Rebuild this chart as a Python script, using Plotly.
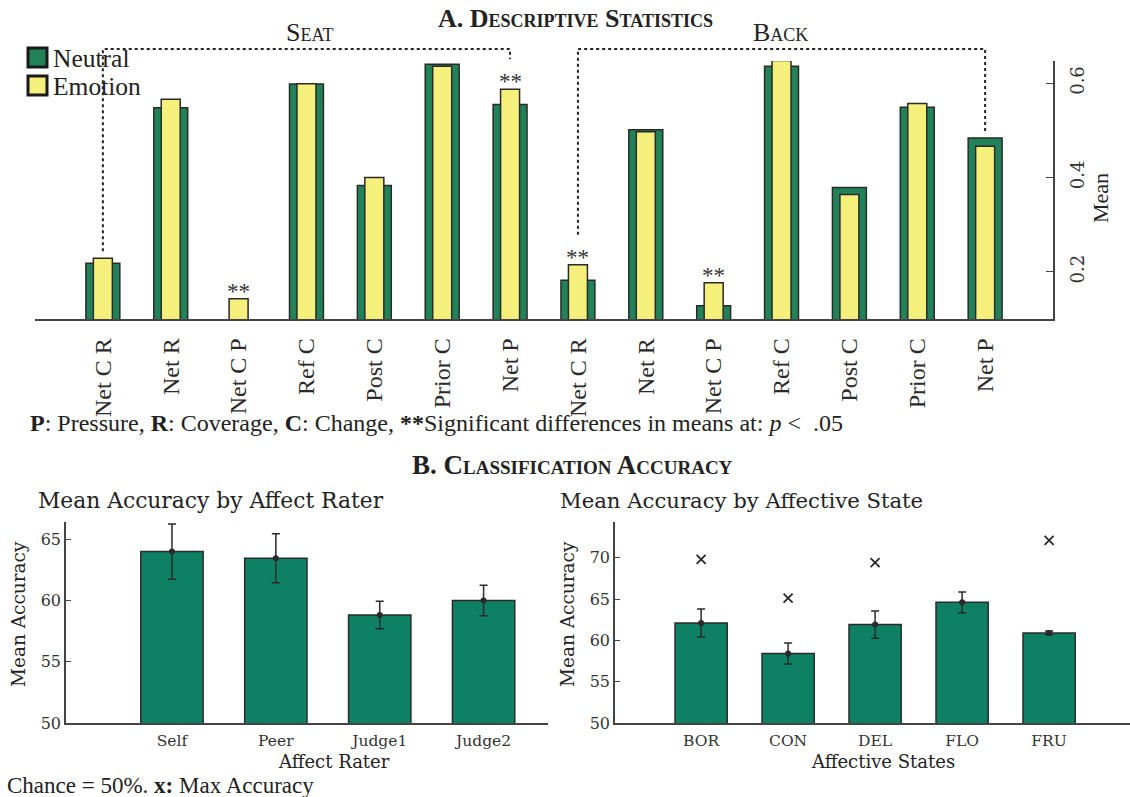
import plotly.graph_objects as go

W, H = 1130, 797
# vertical layout is laid out on the rendered page height
PAGE_H = 787

# ---------------- Panel A: descriptive statistics ----------------
measures = ["Net C R", "Net R", "Net C P", "Ref C", "Post C", "Prior C", "Net P"]
seat_neutral = [0.218, 0.548, 0.085, 0.598, 0.383, 0.640, 0.555]
seat_emotion = [0.229, 0.566, 0.143, 0.599, 0.400, 0.636, 0.587]
back_neutral = [0.182, 0.501, 0.128, 0.636, 0.379, 0.549, 0.484]
back_emotion = [0.215, 0.497, 0.177, 0.648, 0.364, 0.557, 0.466]
seat_signif = [False, False, True, False, False, False, True]
back_signif = [True, False, True, False, False, False, False]

# ---------------- Panel B: classification accuracy ----------------
raters = ["Self", "Peer", "Judge1", "Judge2"]
rater_mean = [64.0, 63.45, 58.82, 60.0]
rater_err = [2.26, 2.0, 1.13, 1.25]

states = ["BOR", "CON", "DEL", "FLO", "FRU"]
state_mean = [62.1, 58.4, 61.9, 64.6, 60.9]
state_err = [1.7, 1.27, 1.65, 1.25, 0.24]
state_max = [69.8, 65.1, 69.4, 74.4, 72.1]

NEUTRAL = "#21825a"
EMOTION = "#f5ef7c"
BAR_B = "#0e8064"
INK = "#2a2a2a"
SERIF = "'Liberation Serif', 'Times New Roman', serif"
BOOK = "'DejaVu Serif', serif"

labels_a = measures + measures
neutral_a = seat_neutral + back_neutral
emotion_a = seat_emotion + back_emotion
signif_a = seat_signif + back_signif
xa = list(range(len(labels_a)))


def px(x):
    return x / W


def py(y):
    return 1 - y / PAGE_H


YA_RANGE = [0.1, 0.647]
YA_DOM = [py(319), py(61)]
YB_DOM = [py(723), py(521.7)]

fig = go.Figure()

fig.add_trace(go.Bar(x=xa, y=neutral_a, width=0.5, name="Neutral",
                     marker=dict(color=NEUTRAL, line=dict(color=INK, width=1.5)),
                     xaxis="x", yaxis="y", showlegend=False))
fig.add_trace(go.Bar(x=xa, y=emotion_a, width=0.28, name="Emotion",
                     marker=dict(color=EMOTION, line=dict(color=INK, width=1.5)),
                     xaxis="x", yaxis="y", showlegend=False))

# Bottom-left: accuracy by rater
xr = list(range(len(raters)))
fig.add_trace(go.Bar(x=xr, y=rater_mean, width=0.6,
                     marker=dict(color=BAR_B, line=dict(color=INK, width=1.5)),
                     xaxis="x2", yaxis="y2", showlegend=False))
fig.add_trace(go.Scatter(x=xr, y=rater_mean, mode="markers",
                         marker=dict(color=INK, size=6),
                         error_y=dict(type="data", array=rater_err, color=INK,
                                      thickness=1.5, width=4),
                         xaxis="x2", yaxis="y2", showlegend=False, cliponaxis=False))

# Bottom-right: accuracy by affective state
xs = list(range(len(states)))
fig.add_trace(go.Bar(x=xs, y=state_mean, width=0.6,
                     marker=dict(color=BAR_B, line=dict(color=INK, width=1.5)),
                     xaxis="x3", yaxis="y3", showlegend=False))
fig.add_trace(go.Scatter(x=xs, y=state_mean, mode="markers",
                         marker=dict(color=INK, size=6),
                         error_y=dict(type="data", array=state_err, color=INK,
                                      thickness=1.5, width=4),
                         xaxis="x3", yaxis="y3", showlegend=False, cliponaxis=False))
fig.add_trace(go.Scatter(x=xs, y=state_max, mode="markers",
                         marker=dict(symbol="x-thin", size=9,
                                     line=dict(color=INK, width=1.8)),
                         xaxis="x3", yaxis="y3", showlegend=False, cliponaxis=False))

axis_line = dict(showline=True, linecolor="#444", linewidth=1.5,
                 showgrid=False, zeroline=False)

fig.update_layout(
    width=W, height=H,
    margin=dict(l=0, r=0, t=0, b=0),
    paper_bgcolor="white", plot_bgcolor="white",
    barmode="overlay",
    xaxis=dict(domain=[px(35), px(1053)], range=[-1, 14], anchor="y",
               tickmode="array", tickvals=xa, ticktext=labels_a, tickangle=-90,
               ticks="", ticklabelstandoff=8,
               tickfont=dict(family=SERIF, size=24, color=INK), **axis_line),
    yaxis=dict(domain=YA_DOM, range=YA_RANGE, anchor="x", side="right",
               tickmode="array", tickvals=[0.2, 0.4, 0.6],
               ticktext=["0.2", "0.4", "0.6"], tickangle=-90,
               ticks="inside", ticklen=7, tickcolor="#444", ticklabelstandoff=8,
               tickfont=dict(family=BOOK, size=18, color="#333"), **axis_line),
    xaxis2=dict(domain=[px(66), px(548)], range=[-1.02, 3.62], anchor="y2",
                tickmode="array", tickvals=xr, ticktext=raters, ticks="",
                ticklabelstandoff=3,
                tickfont=dict(family=BOOK, size=15.5, color="#333"), **axis_line),
    yaxis2=dict(domain=YB_DOM, range=[50, 66.44], anchor="x2",
                tickmode="array", tickvals=[50, 55, 60, 65],
                ticks="inside", ticklen=5, tickcolor="#444",
                tickfont=dict(family=BOOK, size=16, color="#333"), **axis_line),
    xaxis3=dict(domain=[px(615), 1.0], range=[-0.99, 4.93], anchor="y3",
                tickmode="array", tickvals=xs, ticktext=states, ticks="",
                ticklabelstandoff=3,
                tickfont=dict(family=BOOK, size=15.5, color="#333"), **axis_line),
    yaxis3=dict(domain=YB_DOM, range=[50, 74.35], anchor="x3",
                tickmode="array", tickvals=[50, 55, 60, 65, 70],
                ticks="inside", ticklen=5, tickcolor="#444",
                tickfont=dict(family=BOOK, size=16, color="#333"), **axis_line),
)


def to_paper_a(v):
    v = max(v, YA_RANGE[0])
    return YA_DOM[0] + (v - YA_RANGE[0]) / (YA_RANGE[1] - YA_RANGE[0]) * (YA_DOM[1] - YA_DOM[0])


# significance stars
annotations = []
for i, (n, e, s) in enumerate(zip(neutral_a, emotion_a, signif_a)):
    if s:
        annotations.append(dict(x=i, y=max(n, e), xref="x", yref="y", text="**",
                                showarrow=False, yanchor="bottom", yshift=-7,
                                font=dict(family=SERIF, size=23, color="#333")))

# dotted brackets over the Seat and Back groups
shapes = []
top_y = py(49)
n_seat = len(measures)
for lo, hi in [(0, n_seat - 1), (n_seat, 2 * n_seat - 1)]:
    feet = []
    for i in (lo, hi):
        gap = 30 if signif_a[i] else 7
        feet.append(to_paper_a(max(neutral_a[i], emotion_a[i])) + gap / PAGE_H)
    shapes.append(dict(type="path", xref="x", yref="paper",
                       path=f"M {lo},{feet[0]} L {lo},{top_y} L {hi},{top_y} L {hi},{feet[1]}",
                       line=dict(color="#222", width=2, dash="dot")))

# legend boxes
for (y0, y1, col, name) in [(48, 67, NEUTRAL, "Neutral"), (76, 95, EMOTION, "Emotion")]:
    shapes.append(dict(type="rect", xref="paper", yref="paper",
                       x0=px(28), x1=px(47), y0=py(y1), y1=py(y0),
                       fillcolor=col, line=dict(color="#1a1a1a", width=3)))
    annotations.append(dict(x=px(51), y=py((y0 + y1) / 2 + 1), xref="paper", yref="paper",
                            text=name, showarrow=False, xanchor="left", yanchor="middle",
                            font=dict(family=SERIF, size=25.5, color="#222")))


def note(text, x, y, size, family=SERIF, xanchor="center", angle=0, **font_kw):
    annotations.append(dict(x=px(x), y=py(y), xref="paper", yref="paper", text=text,
                            showarrow=False, xanchor=xanchor, yanchor="middle",
                            textangle=angle,
                            font=dict(family=family, size=size, color="#222", **font_kw)))


note("<b>A. Descriptive Statistics</b>", 575, 18, 26, variant="small-caps")
note("Seat", 309, 32, 26, variant="small-caps")
note("Back", 780, 32, 26, variant="small-caps")
note("Mean", 1100, 198, 22, angle=-90)
note("<b>P</b>: Pressure, <b>R</b>: Coverage, <b>C</b>: Change, <b>**</b>Significant "
     "differences in means at: <i>p</i> &lt;  .05", 28, 423, 24, xanchor="left")
note("<b>B. Classification Accuracy</b>", 572, 465, 27, variant="small-caps")
note("Mean Accuracy by Affect Rater", 36, 500, 21.8, family=BOOK, xanchor="left")
note("Mean Accuracy by Affective State", 558, 500, 21.2, family=BOOK, xanchor="left")
note("Mean Accuracy", 18, 614, 18.5, family=BOOK, angle=-90)
note("Mean Accuracy", 567, 614, 18.5, family=BOOK, angle=-90)
note("Affect Rater", 334, 761, 18, family=BOOK)
note("Affective States", 883, 761, 18, family=BOOK)
note("Chance = 50%. <b>x:</b> Max Accuracy", 5, 785, 23, xanchor="left")

fig.update_layout(annotations=annotations, shapes=shapes)

fig.write_html("out.html")
